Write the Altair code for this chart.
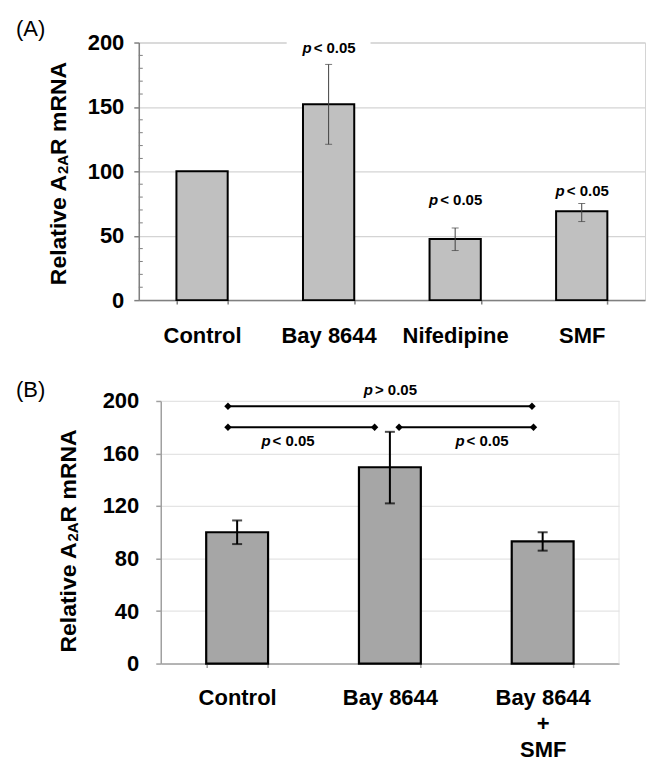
import altair as alt
import pandas as pd

FONT = "Liberation Sans"

# ---------------- Panel A data ----------------
a_cats = ["Control", "Bay 8644", "Nifedipine", "SMF"]
a_vals = [100, 152, 47.5, 69]
a_err_cats = ["Bay 8644", "Nifedipine", "SMF"]
a_err_lo = [121, 38.5, 61]
a_err_hi = [183, 56, 75]
a_p_cats = ["Bay 8644", "Nifedipine", "SMF"]
a_p_y = [196, 78, 85]
a_p_txt = ["< 0.05", "< 0.05", "< 0.05"]
a_major = [0, 50, 100, 150, 200]
a_minor = [10, 20, 30, 40, 60, 70, 80, 90, 110, 120, 130, 140, 160, 170, 180, 190]

# ---------------- Panel B data ----------------
b_cats = ["Control", "Bay 8644", "Bay 8644 + SMF"]
b_vals = [100, 149.5, 93]
b_err_lo = [91, 122, 86]
b_err_hi = [109, 176.5, 100]
b_ticks = [0, 20, 40, 60, 80, 100, 120, 140, 160, 180, 200]
b_br_y = [196, 180, 180]
b_br_x0 = [0.44, 0.44, 1.56]
b_br_x1 = [2.43, 1.40, 2.44]
b_lab_x = [1.5, 0.83, 2.1]
b_lab_y = [208, 169.5, 169.5]
b_lab_txt = ["> 0.05", "< 0.05", "< 0.05"]

# Arial-bold advance widths (Liberation Sans Bold is metric compatible)
ADV = {"R": .722, "e": .556, "l": .278, "a": .556, "t": .333, "i": .278, "v": .556,
       " ": .278, "A": .722, "2": .556, "m": .889, "N": .722}

B_SHIFT = 22      # panel B plot starts 22 px right of panel A's
B_W = 459


def tw(s, size):
    return sum(ADV[c] for c in s) * size


def y_title(x_base, y_bottom):
    pieces = [("Relative A", 23, 0), ("2A", 15, 2), ("R mRNA", 23, 0)]
    layers = []
    y = y_bottom
    for txt, size, shift in pieces:
        layers.append(
            alt.Chart(pd.DataFrame({"t": [txt]})).mark_text(
                font=FONT, fontSize=size, fontWeight="bold", angle=270,
                align="left", baseline="alphabetic", color="black"
            ).encode(text="t:N", x=alt.value(x_base + shift), y=alt.value(y))
        )
        y -= tw(txt, size)
    return layers


def panel_label(txt, x, y):
    return alt.Chart(pd.DataFrame({"t": [txt]})).mark_text(
        font=FONT, fontSize=22, align="left", baseline="middle", color="black"
    ).encode(text="t:N", x=alt.value(x), y=alt.value(y))


def p_labels(df, xenc_fn, yfield, tfield):
    p = alt.Chart(df).mark_text(
        text="p", font=FONT, fontSize=15, fontWeight="bold", fontStyle="italic",
        align="right", baseline="middle", dx=-17, color="black"
    ).encode(x=xenc_fn(), y=alt.Y(f"{yfield}:Q", title=None))
    rest = alt.Chart(df).mark_text(
        font=FONT, fontSize=15, fontWeight="bold", align="left",
        baseline="middle", dx=-15, color="black"
    ).encode(x=xenc_fn(), y=alt.Y(f"{yfield}:Q", title=None), text=f"{tfield}:N")
    return [p, rest]


# ================= Panel A =================
dfA = pd.DataFrame({"cat": a_cats, "val": a_vals})
dfAe = pd.DataFrame({"cat": a_err_cats, "lo": a_err_lo, "hi": a_err_hi})
dfAp = pd.DataFrame({"cat": a_p_cats, "y": a_p_y, "t": a_p_txt})
dfAbox = pd.DataFrame({"cat": ["Bay 8644"], "b0": [195.5], "b1": [204]})
dfAminor = pd.DataFrame({"v": a_minor})


def xA(axis=False):
    if axis:
        return alt.X("cat:N", sort=a_cats, title=None,
                     scale=alt.Scale(paddingInner=0.595, paddingOuter=0.2975),
                     axis=alt.Axis(labelFont=FONT, labelFontSize=22, labelFontWeight="bold",
                                   labelColor="black", labelAngle=0, labelPadding=21,
                                   tickBand="extent", tickSize=4, tickColor="#808080",
                                   tickWidth=1.5, domainColor="#808080", domainWidth=1.5,
                                   grid=False))
    return alt.X("cat:N", sort=a_cats, title=None)


barsA = alt.Chart(dfA).mark_bar(fill="#c0c0c0", stroke="black", strokeWidth=2).encode(
    x=xA(True),
    y=alt.Y("val:Q", title=None, scale=alt.Scale(domain=[0, 200], nice=False),
            axis=alt.Axis(values=a_major, grid=True, gridColor="#d4d4d4", gridWidth=1.3,
                          labelFont=FONT, labelFontSize=22, labelFontWeight="bold",
                          labelColor="black", labelPadding=10, tickSize=5,
                          tickColor="#808080", tickWidth=1.5,
                          domainColor="#808080", domainWidth=1.5)),
)
errA = alt.Chart(dfAe).mark_rule(color="#404040", strokeWidth=1).encode(
    x=xA(), y=alt.Y("lo:Q", title=None), y2="hi:Q")
capLoA = alt.Chart(dfAe).mark_tick(color="#404040", size=7, thickness=1).encode(
    x=xA(), y=alt.Y("lo:Q", title=None))
capHiA = alt.Chart(dfAe).mark_tick(color="#404040", size=7, thickness=1).encode(
    x=xA(), y=alt.Y("hi:Q", title=None))
boxA = alt.Chart(dfAbox).mark_bar(fill="white", width=84).encode(
    x=xA(), y=alt.Y("b0:Q", title=None), y2="b1:Q")
minorA = alt.Chart(dfAminor).mark_rule(color="#808080", strokeWidth=1).encode(
    y=alt.Y("v:Q", title=None), x=alt.value(0), x2=alt.value(4))

panelA = alt.layer(
    barsA, errA, capLoA, capHiA, boxA, *p_labels(dfAp, xA, "y", "t"), minorA,
    panel_label("(A)", -123, -14), *y_title(-73, 243)
).properties(width=507, height=258,
             view=alt.ViewBackground(stroke="#d4d4d4", strokeWidth=1))

# ================= Panel B =================
dfB = pd.DataFrame({"cat": b_cats, "val": b_vals, "lo": b_err_lo, "hi": b_err_hi})
dfBr = pd.DataFrame({"x0": b_br_x0, "x1": b_br_x1, "y": b_br_y})
dfBl = pd.DataFrame({"x": b_lab_x, "y": b_lab_y, "t": b_lab_txt})
B_RANGE = [B_SHIFT, B_SHIFT + B_W]


def xB(axis=False):
    if axis:
        return alt.X("cat:N", sort=b_cats, title=None,
                     scale=alt.Scale(range=B_RANGE, paddingInner=0.595, paddingOuter=0.2975),
                     axis=alt.Axis(labelFont=FONT, labelFontSize=22, labelFontWeight="bold",
                                   labelColor="black", labelAngle=0, labelPadding=20,
                                   labelLineHeight=26,
                                   labelExpr="datum.value == 'Bay 8644 + SMF' ? ['Bay 8644', '+', 'SMF'] : datum.label",
                                   tickBand="extent", tickSize=4, tickColor="#a0a0a0",
                                   tickWidth=1.5, domainColor="#a0a0a0", domainWidth=1.5,
                                   grid=False))
    return alt.X("cat:N", sort=b_cats, title=None)


def xq(field="x"):
    return alt.X(f"{field}:Q", title=None, axis=None,
                 scale=alt.Scale(domain=[0, 3], range=B_RANGE, nice=False, zero=False))


barsB = alt.Chart(dfB).mark_bar(fill="#a6a6a6", stroke="black", strokeWidth=2.2).encode(
    x=xB(True),
    y=alt.Y("val:Q", title=None, scale=alt.Scale(domain=[0, 200], nice=False),
            axis=alt.Axis(values=b_ticks, grid=True, gridColor="#e4e4e4", gridWidth=1.3,
                          offset=-B_SHIFT,
                          labelExpr="datum.value % 40 == 0 ? datum.label : ''",
                          labelFont=FONT, labelFontSize=22, labelFontWeight="bold",
                          labelColor="black", labelPadding=17, tickSize=5,
                          tickColor="#a0a0a0", tickWidth=1.5,
                          domainColor="#a0a0a0", domainWidth=1.5)),
)
errB = alt.Chart(dfB).mark_rule(color="black", strokeWidth=2).encode(
    x=xB(), y=alt.Y("lo:Q", title=None), y2="hi:Q")
capLoB = alt.Chart(dfB).mark_tick(color="black", size=10, thickness=2).encode(
    x=xB(), y=alt.Y("lo:Q", title=None))
capHiB = alt.Chart(dfB).mark_tick(color="black", size=10, thickness=2).encode(
    x=xB(), y=alt.Y("hi:Q", title=None))
innerB = alt.layer(barsB, errB, capLoB, capHiB)

brB = alt.Chart(dfBr).mark_rule(color="black", strokeWidth=2).encode(
    x=xq("x0"), x2="x1:Q", y=alt.Y("y:Q", title=None))
dmB = alt.Chart(dfBr).transform_fold(["x0", "x1"], as_=["end", "xe"]).mark_point(
    shape="diamond", filled=True, size=55, color="black", opacity=1).encode(
    x=xq("xe"), y=alt.Y("y:Q", title=None))
annB = alt.layer(brB, dmB, *p_labels(dfBl, xq, "y", "t"))

rightB = alt.Chart(pd.DataFrame({"v": [200]})).mark_rule(color="#e4e4e4", strokeWidth=1).encode(
    x=alt.value(B_SHIFT + B_W), y=alt.value(0), y2=alt.value(263))

panelB = alt.layer(
    rightB, innerB, annB, panel_label("(B)", -145 + B_SHIFT, -11), *y_title(-85 + B_SHIFT, 252)
).resolve_scale(x="independent").properties(
    width=B_SHIFT + B_W, height=263,
    view=alt.ViewBackground(strokeOpacity=0))

chart = alt.concat(panelA, panelB, columns=1, spacing=32, bounds="full").properties(
    padding={"left": 15, "top": 16, "right": 0, "bottom": 0},
    background="white",
)

chart.save("out.html", embed_options={"renderer": "svg", "actions": False})
